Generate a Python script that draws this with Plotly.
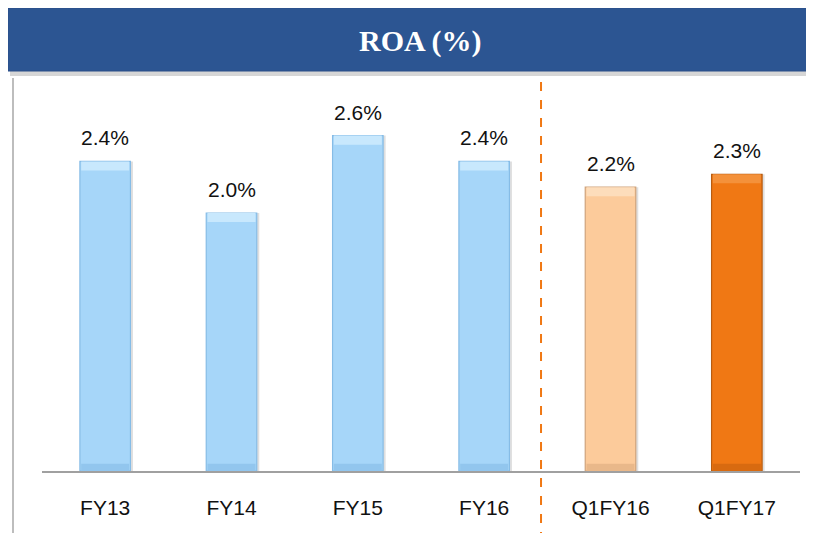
import plotly.graph_objects as go

categories = ["FY13", "FY14", "FY15", "FY16", "Q1FY16", "Q1FY17"]
roa = [2.4, 2.0, 2.6, 2.4, 2.2, 2.3]
labels = ["2.4%", "2.0%", "2.6%", "2.4%", "2.2%", "2.3%"]

fill_colors = ["#A6D6F9", "#A6D6F9", "#A6D6F9", "#A6D6F9", "#FCCB9B", "#F07814"]
edge_colors = ["#86BCE6", "#86BCE6", "#86BCE6", "#86BCE6", "#CFA47C", "#B85C10"]
top_colors = ["#C8E8FD", "#C8E8FD", "#C8E8FD", "#C8E8FD", "#FDDDBB", "#F4913A"]
bottom_colors = ["#92C6EE", "#92C6EE", "#92C6EE", "#92C6EE", "#E9B88A", "#D86A10"]

W, H = 814, 533
OFF = 8  # browser default body margin
L, R, T, B = 42 - OFF, 14 + OFF, 80 - OFF, 62 + OFF
pw, ph = W - L - R, H - T - B


def px_x(p):
    return (p - OFF - L) / pw


def px_y(p):
    return (H - B - (p - OFF)) / ph


fig = go.Figure()

# soft drop shadow of bars
fig.add_trace(go.Bar(
    x=categories, y=roa, width=0.4, offset=-0.18,
    marker=dict(color="rgba(110,110,110,0.22)", line=dict(width=0)),
    hoverinfo="skip", showlegend=False,
))
fig.add_trace(go.Bar(
    x=categories, y=roa, width=0.4,
    marker=dict(color=fill_colors, line=dict(color=edge_colors, width=1.2)),
    showlegend=False,
))
bevel = 0.07
fig.add_trace(go.Bar(
    x=categories, y=[bevel] * len(roa), base=[v - bevel for v in roa], width=0.38,
    marker=dict(color=top_colors, line=dict(width=0)),
    hoverinfo="skip", showlegend=False,
))
fig.add_trace(go.Bar(
    x=categories, y=[bevel * 0.8] * len(roa), base=[0] * len(roa), width=0.38,
    marker=dict(color=bottom_colors, line=dict(width=0)),
    hoverinfo="skip", showlegend=False,
))

for c, v, t in zip(categories, roa, labels):
    fig.add_annotation(x=c, y=v, text=t, showarrow=False, yanchor="bottom", xanchor="center",
                       yshift=10, font=dict(family="Liberation Sans", size=21, color="#111111"))

shapes = [
    # banner shadow
    dict(type="rect", xref="paper", yref="paper", x0=px_x(10), x1=px_x(830),
         y0=px_y(76), y1=px_y(12), fillcolor="rgba(0,0,0,0.16)", line=dict(width=0), layer="below"),
    # banner
    dict(type="rect", xref="paper", yref="paper", x0=px_x(8), x1=px_x(830),
         y0=px_y(71), y1=px_y(8), fillcolor="#2C5592", line=dict(color="#2A4F88", width=1)),
    # left border line
    dict(type="line", xref="paper", yref="paper", x0=px_x(13), x1=px_x(13),
         y0=px_y(78), y1=px_y(545), line=dict(color="#BDBDBD", width=2)),
    # dashed separator
    dict(type="line", xref="x", yref="paper", x0=3.45, x1=3.45,
         y0=px_y(82), y1=px_y(545), line=dict(color="#F07814", width=2, dash="dash")),
]

fig.add_annotation(xref="paper", yref="paper", x=px_x(420), y=px_y(41), text="<b>ROA (%)</b>",
                   xanchor="center", yanchor="middle",
                   showarrow=False, font=dict(family="Liberation Serif", size=30, color="white"))

fig.update_layout(
    width=W, height=H,
    margin=dict(l=L, r=R, t=T, b=B),
    paper_bgcolor="white", plot_bgcolor="white",
    barmode="overlay",
    shapes=shapes,
    xaxis=dict(showline=True, linecolor="#A0A0A0", linewidth=1.5, showgrid=False,
               ticks="outside", ticklen=17, tickcolor="rgba(0,0,0,0)",
               tickfont=dict(family="Liberation Sans", size=21, color="#111111"),
               fixedrange=True),
    yaxis=dict(range=[0, ph / 129.0], visible=False, showgrid=False, fixedrange=True),
)

fig.write_html("out.html")
